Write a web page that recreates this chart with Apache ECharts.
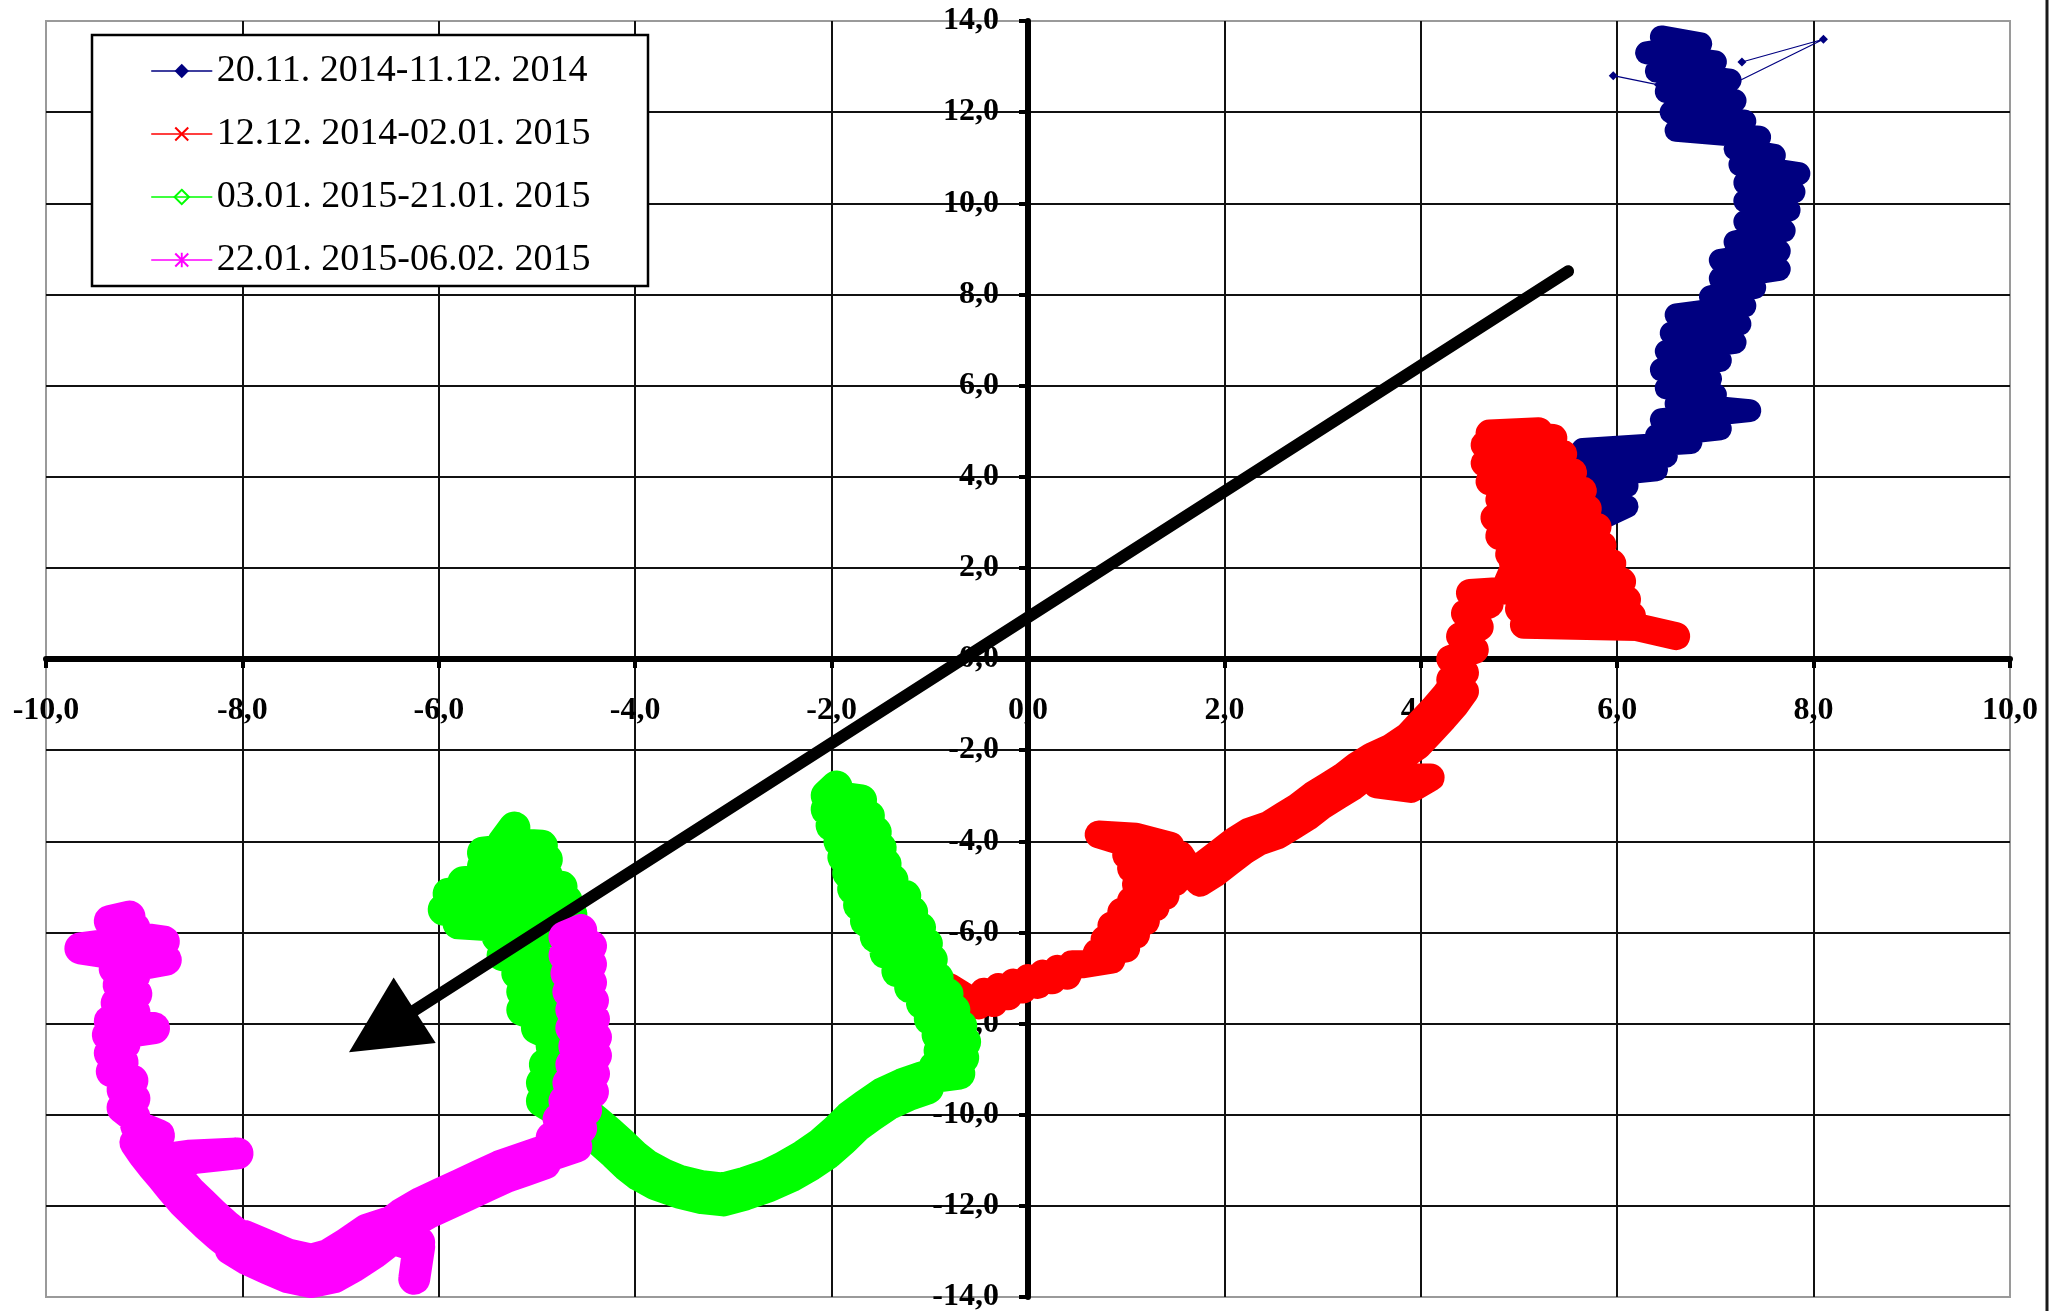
<!DOCTYPE html>
<html><head><meta charset="utf-8">
<script src="https://cdn.jsdelivr.net/npm/echarts@6/dist/echarts.min.js"></script>
<style>html,body{margin:0;padding:0;background:#fff}#c{width:2053px;height:1311px}</style>
</head><body><div id="c"></div>
<script>
const seriesNames = ['20.11. 2014-11.12. 2014', '12.12. 2014-02.01. 2015', '03.01. 2015-21.01. 2015', '22.01. 2015-06.02. 2015'];
const xTicks = [-10, -8, -6, -4, -2, 0, 2, 4, 6, 8, 10];
const yTicks = [-14, -12, -10, -8, -6, -4, -2, 0, 2, 4, 6, 8, 10, 12, 14];

const navyPoints = [
[6.45,13.65],[6.85,13.5],[6.3,13.3],[7.0,13.1],[6.4,12.9],[7.15,12.7],[6.5,12.45],[7.2,12.25],[6.55,12.0],[7.3,11.8],[6.6,11.6],[7.45,11.45],[7.2,11.2],[7.6,11.05],[7.25,10.85],[7.85,10.65],[7.3,10.45],[7.8,10.25],[7.3,10.05],[7.75,9.85],[7.3,9.6],[7.7,9.4],[7.2,9.15],[7.65,8.95],[7.05,8.75],[7.65,8.55],[7.05,8.35],[7.4,8.15],[6.95,7.95],[7.3,7.75],[6.6,7.55],[7.25,7.35],[6.55,7.15],[7.2,6.95],[6.5,6.75],[7.05,6.55],[6.45,6.35],[6.95,6.15],[6.5,5.95],[7.0,5.8],[6.6,5.6],[7.35,5.45],[6.45,5.25],[7.05,5.05],[6.4,4.9],[6.75,4.75],[5.65,4.6],[6.5,4.45],[5.65,4.3],[6.4,4.15],[5.7,4.0],[6.1,3.8],[5.85,3.6],[6.1,3.35],[5.9,3.15],[5.6,3.0],[5.45,2.5],[5.55,2.0],[5.4,1.5],[5.55,1.0],[5.45,0.7]
];
const navyStrayA = [[5.96,12.8],[6.42,12.6]];
const navyStrayB = [[7.27,13.1],[8.1,13.6],[7.16,12.6]];

const redPoints = [
[6.6,0.5],[6.2,0.7],[5.05,0.75],[6.15,0.95],[5.0,1.1],[6.1,1.3],[4.95,1.5],[6.05,1.7],[4.95,1.9],[5.95,2.1],[4.9,2.3],[5.85,2.5],[4.8,2.7],[5.8,2.9],[4.75,3.1],[5.7,3.3],[4.8,3.5],[5.65,3.7],[4.7,3.9],[5.55,4.1],[4.65,4.3],[5.45,4.5],[4.65,4.7],[5.35,4.85],[4.7,4.95],[5.2,5.0],
[4.85,4.0],[4.85,3.0],[4.95,2.0],[4.85,1.5],[4.5,1.45],[4.7,1.2],[4.45,1.0],[4.6,0.7],[4.4,0.5],[4.55,0.2],[4.3,0.0],[4.45,-0.3],[4.3,-0.45],
[4.35,-0.49],[4.25,-0.79],[4.13,-1.09],[4.0,-1.39],[3.87,-1.69],[3.7,-1.94],[3.5,-2.14],[3.35,-2.34],[3.2,-2.59],[3.05,-2.79],[2.9,-2.99],[2.75,-3.24],[2.6,-3.44],[2.45,-3.64],[2.25,-3.79],[2.1,-3.99],[1.95,-4.24],[1.8,-4.49],[1.65,-4.69],
[1.75,-4.91],[1.9,-4.71],[2.05,-4.46],[2.2,-4.21],[2.35,-4.01],[2.55,-3.86],[2.7,-3.66],[2.85,-3.46],[3.0,-3.21],[3.15,-3.01],[3.3,-2.81],[3.45,-2.56],[3.75,-2.6],[4.1,-2.6],[3.9,-2.85],[3.55,-2.75],[3.6,-2.36],[3.8,-2.16],[3.97,-1.91],[4.1,-1.61],[4.23,-1.31],[4.35,-1.01],[4.45,-0.71],
[4.4,-0.6],[4.05,-1.5],[3.55,-2.25],[3.1,-2.9],[2.5,-3.75],[2.0,-4.35],[1.7,-4.8],
[1.55,-4.3],[1.1,-4.1],[0.72,-3.85],[1.1,-3.9],[1.45,-4.1],[1.0,-4.3],[1.5,-4.55],[1.05,-4.6],[1.5,-4.9],[1.1,-4.95],[1.4,-5.2],[1.05,-5.3],
[1.3,-5.45],[0.95,-5.55],[1.2,-5.75],[0.85,-5.85],[1.1,-6.05],[0.78,-6.15],[1.0,-6.35],[0.7,-6.45],[0.85,-6.6],[0.55,-6.7],
[0.45,-6.7],[0.4,-6.95],[0.3,-6.8],[0.25,-7.05],[0.15,-6.9],[0.1,-7.15],[0.0,-7.0],[-0.05,-7.25],[-0.15,-7.1],[-0.2,-7.4],[-0.3,-7.2],[-0.35,-7.55],[-0.45,-7.3],[-0.5,-7.6],
[-0.8,-7.2],[-1.1,-7.0],[-1.3,-6.7],[-1.45,-6.45]
];

const greenPoints = [
[-1.95,-2.8],[-2.05,-3.0],[-1.7,-3.1],[-2.05,-3.3],[-1.62,-3.45],[-2.0,-3.65],[-1.55,-3.8],[-1.92,-4.0],[-1.5,-4.15],[-1.88,-4.35],[-1.45,-4.5],[-1.83,-4.7],[-1.38,-4.85],[-1.78,-5.05],[-1.25,-5.2],[-1.72,-5.4],[-1.18,-5.55],[-1.65,-5.75],[-1.1,-5.9],[-1.55,-6.1],[-1.03,-6.25],[-1.45,-6.45],[-0.98,-6.6],[-1.33,-6.85],[-0.92,-7.0],[-1.2,-7.2],[-0.82,-7.35],[-1.08,-7.55],[-0.75,-7.7],[-1.0,-7.9],[-0.68,-8.05],[-0.92,-8.25],[-0.64,-8.4],[-0.9,-8.6],[-0.66,-8.75],[-0.95,-8.95],[-0.7,-9.1],[-1.05,-9.2],
[-1.02,-9.42],[-1.22,-9.57],[-1.42,-9.77],[-1.59,-10.02],[-1.74,-10.25],[-1.88,-10.55],[-2.04,-10.85],[-2.21,-11.1],[-2.41,-11.35],[-2.65,-11.58],[-2.88,-11.75],[-3.1,-11.88],[-3.32,-11.83],[-3.55,-11.71],[-3.79,-11.53],[-3.96,-11.33],[-4.09,-11.11],[-4.21,-10.86],[-4.34,-10.61],[-4.46,-10.39],[-4.59,-10.16],
[-4.51,-9.94],[-4.38,-10.17],[-4.26,-10.39],[-4.13,-10.64],[-4.01,-10.89],[-3.88,-11.11],[-3.71,-11.31],[-3.55,-11.45],[-3.32,-11.57],[-3.1,-11.62],[-2.88,-11.49],[-2.65,-11.32],[-2.49,-11.15],[-2.29,-10.9],[-2.12,-10.65],[-1.96,-10.35],[-1.82,-10.05],[-1.65,-9.78],[-1.48,-9.53],[-1.28,-9.33],[-1.08,-9.18],
[-1.05,-9.3],[-1.25,-9.45],[-1.45,-9.65],[-1.62,-9.9],[-1.78,-10.15],[-1.92,-10.45],[-2.08,-10.75],[-2.25,-11.0],[-2.45,-11.25],[-2.65,-11.45],[-2.88,-11.62],[-3.1,-11.75],[-3.32,-11.7],[-3.55,-11.58],[-3.75,-11.42],[-3.92,-11.22],[-4.05,-11.0],[-4.17,-10.75],[-4.3,-10.5],[-4.42,-10.28],[-4.55,-10.05],
[-4.8,-9.9],[-4.95,-9.7],[-4.8,-9.5],[-4.95,-9.3],[-4.8,-9.1],[-4.92,-8.9],[-4.8,-8.7],[-4.85,-8.5],[-4.8,-8.3],[-5.0,-8.1],[-4.9,-7.9],[-5.15,-7.7],[-4.9,-7.5],[-5.15,-7.3],[-4.92,-7.1],[-5.2,-6.9],[-4.95,-6.7],[-5.35,-6.5],[-4.98,-6.3],[-5.4,-6.1],[-4.7,-5.95],[-5.8,-5.8],[-4.65,-5.6],[-5.95,-5.5],[-4.7,-5.3],[-5.9,-5.15],[-4.75,-5.0],[-5.75,-4.9],[-4.9,-4.75],[-5.55,-4.55],[-4.9,-4.4],[-5.55,-4.25],[-4.95,-4.1],[-5.35,-4.05],[-5.23,-3.7]
];

const magentaPoints = [
[-4.55,-5.95],[-4.72,-6.1],[-4.45,-6.3],[-4.72,-6.5],[-4.45,-6.7],[-4.7,-6.9],[-4.45,-7.1],[-4.68,-7.3],[-4.43,-7.5],[-4.65,-7.7],[-4.42,-7.9],[-4.65,-8.1],[-4.4,-8.3],[-4.62,-8.5],[-4.4,-8.7],[-4.65,-8.9],[-4.42,-9.1],[-4.68,-9.3],[-4.43,-9.5],[-4.72,-9.7],[-4.5,-9.9],[-4.78,-10.1],[-4.55,-10.3],[-4.85,-10.5],[-4.6,-10.7],[-4.88,-10.9],
[-4.92,-11.07],[-5.12,-11.22],[-5.32,-11.37],[-5.52,-11.57],[-5.72,-11.77],[-5.92,-11.97],[-6.12,-12.17],[-6.32,-12.42],[-6.47,-12.67],
[-6.53,-12.43],[-6.38,-12.18],[-6.18,-11.93],[-5.98,-11.73],[-5.78,-11.53],[-5.58,-11.33],[-5.38,-11.13],[-5.18,-10.98],[-4.98,-10.83],
[-4.95,-10.95],[-5.15,-11.1],[-5.35,-11.25],[-5.55,-11.45],[-5.75,-11.65],[-5.95,-11.85],[-6.15,-12.05],[-6.35,-12.3],[-6.5,-12.55],
[-6.2,-12.8],[-6.25,-13.6],[-6.2,-12.9],
[-6.47,-12.72],[-6.65,-13.02],[-6.86,-13.32],[-7.07,-13.57],[-7.3,-13.67],[-7.53,-13.57],[-7.75,-13.37],[-7.95,-13.17],[-8.12,-12.95],
[-7.98,-12.66],[-7.75,-12.87],[-7.53,-13.07],[-7.3,-13.18],[-7.13,-13.08],[-6.94,-12.83],[-6.74,-12.53],[-6.53,-12.38],
[-6.5,-12.55],[-6.7,-12.85],[-6.9,-13.15],[-7.1,-13.4],[-7.3,-13.5],[-7.5,-13.4],[-7.7,-13.2],[-7.9,-13.0],[-8.05,-12.8],
[-8.09,-12.91],[-8.24,-12.66],[-8.37,-12.41],[-8.49,-12.16],[-8.61,-11.91],[-8.72,-11.63],[-8.82,-11.36],[-8.92,-11.11],[-9.01,-10.86],[-9.09,-10.61],
[-9.01,-10.39],[-8.93,-10.64],[-8.84,-10.89],[-8.74,-11.14],[-8.64,-11.41],[-8.53,-11.69],[-8.41,-11.94],[-8.29,-12.19],[-8.16,-12.44],[-8.01,-12.69],
[-8.05,-12.8],[-8.2,-12.55],[-8.33,-12.3],[-8.45,-12.05],[-8.57,-11.8],[-8.68,-11.52],[-8.78,-11.25],[-8.5,-10.95],[-8.05,-10.85],[-8.55,-10.9],[-8.88,-11.0],[-8.97,-10.75],[-9.05,-10.5],
[-8.85,-10.45],[-9.08,-10.25],[-9.1,-10.05],[-9.22,-9.85],[-9.1,-9.65],[-9.22,-9.45],[-9.12,-9.25],[-9.33,-9.05],[-9.22,-8.85],[-9.35,-8.65],[-9.2,-8.45],[-9.37,-8.25],[-8.9,-8.1],[-9.35,-7.95],[-9.1,-7.75],[-9.28,-7.55],[-9.08,-7.35],[-9.26,-7.15],[-9.1,-6.95],[-9.3,-6.8],[-8.78,-6.6],[-9.35,-6.45],[-9.65,-6.35],[-9.3,-6.25],[-8.8,-6.2],[-9.3,-6.05],[-9.1,-5.9],[-9.35,-5.75],[-9.15,-5.65]
];

const arrowStart = [5.5, 8.51];
const arrowEnd = [-6.58, -8.17];

const X_PATH = 'M0,1L1,0L5,4L9,0L10,1L6,5L10,9L9,10L5,6L1,10L0,9L4,5Z';
const STAR_PATH = X_PATH + 'M4.35,0L5.65,0L5.65,10L4.35,10Z';
const ARROW_PATH = 'path://M5,0L10,10L0,10Z';

const fmt = v => v.toFixed(1).replace('.', ',');
const GRID = { left: 46, right: 43, top: 21, bottom: 14 };
const W = 2053, H = 1311;

function band(name, data, color, symbol, size, itemStyle, z, width) {
  return {
    type: 'line', name: name, data: data, symbol: symbol, symbolSize: size,
    showSymbol: true, showAllSymbol: true, z: z,
    lineStyle: { color: color, width: width, join: 'round', cap: 'round' },
    itemStyle: itemStyle,
    emphasis: { disabled: true }, silent: true, animation: false
  };
}
function thin(name, data, color, symbol, size, z) {
  return {
    type: 'line', name: name, data: data, symbol: symbol, symbolSize: size,
    showSymbol: true, showAllSymbol: true, z: z,
    lineStyle: { color: color, width: 1.2 },
    itemStyle: { color: color },
    emphasis: { disabled: true }, silent: true, animation: false
  };
}

const axisCommon = {
  type: 'value',
  axisLine: { show: true, onZero: false, lineStyle: { color: '#000', width: 6 } },
  axisTick: { show: true, inside: false, length: 9, lineStyle: { color: '#000', width: 4 } },
  splitLine: { show: true, showMinLine: false, showMaxLine: false, lineStyle: { color: '#111', width: 2 } },
  axisLabel: { formatter: fmt, color: '#000', fontFamily: 'Liberation Serif', fontWeight: 'bold', fontSize: 32 }
};

const chart = echarts.init(document.getElementById('c'), null, { renderer: 'canvas' });
chart.setOption({
  backgroundColor: '#fff',
  animation: false,
  grid: Object.assign({ containLabel: false, outerBoundsMode: 'none',
          show: true, borderColor: '#9a9a9a', borderWidth: 2, backgroundColor: 'transparent' }, GRID),
  xAxis: Object.assign({}, axisCommon, {
    position: 'bottom',
    min: xTicks[0], max: xTicks[xTicks.length - 1], interval: xTicks[1] - xTicks[0],
    axisLabel: Object.assign({}, axisCommon.axisLabel, { margin: 36 })
  }),
  yAxis: Object.assign({}, axisCommon, {
    position: 'left',
    min: yTicks[0], max: yTicks[yTicks.length - 1], interval: yTicks[1] - yTicks[0],
    axisLabel: Object.assign({}, axisCommon.axisLabel, { margin: 29 })
  }),
  legend: {
    data: seriesNames, orient: 'vertical', left: 151, top: 51,
    itemWidth: 60, itemHeight: 18, itemGap: 23, padding: 0, z: 6,
    selectedMode: false,
    lineStyle: { width: 1.5 },
    textStyle: { fontFamily: 'Liberation Serif', fontSize: 38, color: '#000', lineHeight: 40 }
  },
  graphic: [
    { type: 'rect', z: 5, shape: { x: 92, y: 35, width: 556, height: 251 },
      style: { fill: '#fff', stroke: '#000', lineWidth: 2.5 } },
    { type: 'line', z: 5, shape: { x1: 2047, y1: 0, x2: 2047, y2: 1311 },
      style: { stroke: '#1a1a1a', lineWidth: 3 } }
  ],
  series: [
    band(seriesNames[0], navyPoints, '#000080', 'diamond', 9, { color: '#000080' }, 2, 23),
    thin(seriesNames[0], navyStrayA, '#000080', 'diamond', 9, 2),
    thin(seriesNames[0], navyStrayB, '#000080', 'diamond', 9, 2),
    band(seriesNames[1], redPoints, '#ff0000', 'path://' + X_PATH, 14, { color: '#ff0000' }, 3, 28),
    band(seriesNames[2], greenPoints, '#00ff00', 'diamond', 14,
         { color: 'rgba(0,0,0,0)', borderColor: '#00ff00', borderWidth: 1.5 }, 4, 32),
    band(seriesNames[3], magentaPoints, '#ff00ff', 'path://' + STAR_PATH, 15, { color: '#ff00ff' }, 5, 32),
    {
      type: 'line', data: [], z: 8, silent: true, animation: false,
      markLine: {
        silent: true, animation: false, symbol: ['none', ARROW_PATH], symbolSize: 78,
        label: { show: false }, emphasis: { disabled: true },
        lineStyle: { color: '#000', width: 12, type: 'solid', cap: 'round' },
        data: [[{ coord: arrowStart }, { coord: arrowEnd }]]
      }
    }
  ]
});

// place both axes (line, ticks and labels) through the origin, as in the original
const origin = chart.convertToPixel({ gridIndex: 0 }, [0, 0]);
chart.setOption({
  xAxis: { offset: -((H - GRID.bottom) - origin[1]) },
  yAxis: { offset: -(origin[0] - GRID.left) }
});
</script>
</body></html>
